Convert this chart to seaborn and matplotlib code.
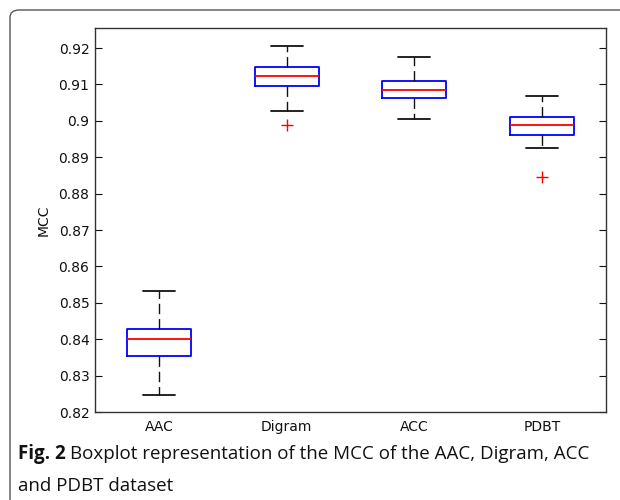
import numpy as np
import pandas as pd
import matplotlib
matplotlib.use('Agg')
import matplotlib.pyplot as plt
import seaborn as sns
from matplotlib.patches import FancyBboxPatch
from matplotlib.ticker import FuncFormatter

# summary values
groups = ['AAC', 'Digram', 'ACC', 'PDBT']
lower_whisker = [0.8248, 0.9028, 0.9005, 0.8924]
q1 = [0.8354, 0.9095, 0.9062, 0.8960]
median = [0.8400, 0.9124, 0.9085, 0.8989]
q3 = [0.8427, 0.9149, 0.9110, 0.9011]
upper_whisker = [0.8532, 0.9206, 0.9176, 0.9068]
low_outlier = [None, 0.8988, None, 0.8847]

yticks = [0.82, 0.83, 0.84, 0.85, 0.86, 0.87, 0.88, 0.89, 0.90, 0.91, 0.92]

# nine ordered values per group so that the quartiles land on the read values
rows = []
for i, g in enumerate(groups):
    first = low_outlier[i] if low_outlier[i] is not None else lower_whisker[i]
    vals = [first, lower_whisker[i], q1[i], q1[i], median[i], q3[i], q3[i],
            upper_whisker[i], upper_whisker[i]]
    for v in vals:
        rows.append({'dataset': g, 'MCC': v})
df = pd.DataFrame(rows)

sns.set_style('white')
plt.rcParams['font.family'] = ['DejaVu Sans']

fig = plt.figure(figsize=(6.2, 5.0), dpi=100)
ax = fig.add_axes([95 / 620, 1 - 412 / 500, 511 / 620, 384 / 500])

sns.boxplot(data=df, x='dataset', y='MCC', order=groups, ax=ax, width=0.5,
            fill=False, whis=1.5, linewidth=1.0,
            boxprops=dict(color='#0000ff', linewidth=1.3),
            medianprops=dict(color='#ff0000', linewidth=1.3),
            whiskerprops=dict(color='#111111', linestyle=(0, (7.5, 3.5)), linewidth=1.0),
            capprops=dict(color='#111111', linewidth=1.3),
            flierprops=dict(marker='+', markeredgecolor='#ff0000', markerfacecolor='none',
                            markersize=8, markeredgewidth=1.0))

ax.set_xlim(-0.5, 3.5)
ax.set_ylim(0.82, 0.9255)
ax.set_yticks(yticks)
ax.yaxis.set_major_formatter(FuncFormatter(lambda v, p: '%g' % round(v, 3)))
ax.set_xlabel('')
ax.set_ylabel('MCC', fontsize=10, labelpad=6, color='#111111')
ax.tick_params(axis='y', direction='in', length=5, width=0.8, left=True, right=True,
               labelsize=10, pad=4, colors='#111111')
ax.tick_params(axis='x', length=0, labelsize=10, pad=6, colors='#111111')
for s in ax.spines.values():
    s.set_visible(True)
    s.set_color('#333333')
    s.set_linewidth(1.0)

# outer caption frame with rounded corner
frame = FancyBboxPatch((10 / 620, -0.2), 1.2, 1 - 10 / 500 + 0.2,
                       boxstyle='round,pad=0,rounding_size=0.015',
                       transform=fig.transFigure, facecolor='none',
                       edgecolor='#555555', linewidth=1.0, clip_on=False)
fig.patches.append(frame)

cap_size = 13.5
fig.canvas.draw()
r = fig.canvas.get_renderer()
t1 = fig.text(18 / 620, 1 - 454 / 500, 'Fig. 2', fontsize=cap_size, fontweight='bold',
              family=['Open Sans', 'DejaVu Sans'], va='center', color='#111111')
bb = t1.get_window_extent(renderer=r)
fig.text(bb.x1 / fig.bbox.width + 4 / 620, 1 - 454 / 500,
         'Boxplot representation of the MCC of the AAC, Digram, ACC',
         fontsize=cap_size, family=['Open Sans', 'DejaVu Sans'], va='center', color='#111111')
fig.text(18 / 620, 1 - 486 / 500, 'and PDBT dataset', fontsize=cap_size,
         family=['Open Sans', 'DejaVu Sans'], va='center', color='#111111')

fig.savefig('out.png', dpi=100)
